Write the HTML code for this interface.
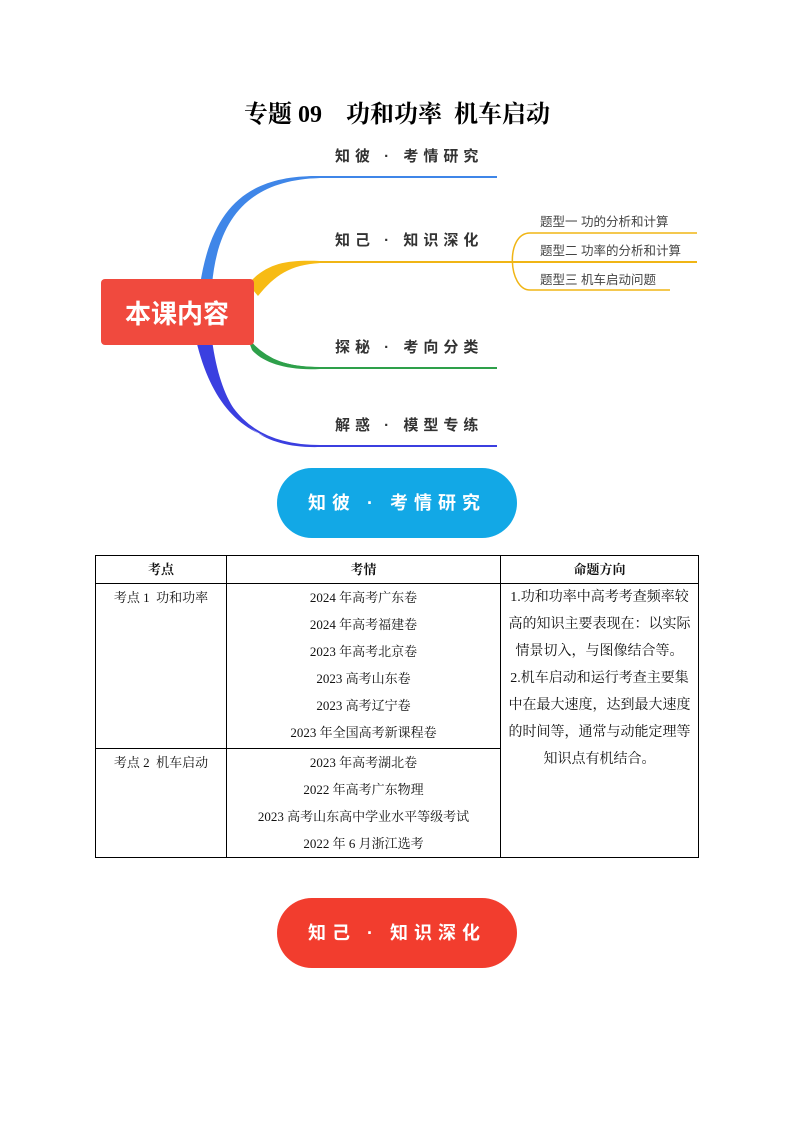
<!DOCTYPE html>
<html><head><meta charset="utf-8"><style>
body{margin:0;width:794px;height:1123px;background:#fff;position:relative;font-family:"Liberation Serif","Noto Serif CJK SC",serif;overflow:hidden}
.t{position:absolute;white-space:nowrap}
.pill{position:absolute;left:277px;width:240px;height:70px;border-radius:35px;color:#fff;font:bold 18px "Liberation Sans","Noto Sans CJK SC",sans-serif;letter-spacing:6px;text-align:center;line-height:70px}
table{position:absolute;left:95px;top:555px;width:604px;border-collapse:collapse;font-size:13px;color:#111}
td{border:1px solid #000;vertical-align:top;text-align:center;padding:0;line-height:27px}
</style></head><body>
<div class="t" style="left:0;width:794px;text-align:center;top:94px;font-size:24px;font-weight:bold;">专题 09&nbsp;&nbsp;&nbsp;&nbsp;功和功率&nbsp;&nbsp;机车启动</div>
<svg style="position:absolute;left:0;top:0" width="794" height="470">
<path d="M205,285 C215,210 250,177 320,177 L497,177" stroke="#3f86e8" stroke-width="2" fill="none"/>
<path d="M200,285 C212,205 250,175 320,176 L320,178 C252,180 218,215 212,285Z" fill="#3f86e8"/>
<path d="M250,290 C270,268 285,262 320,262 L497,262 L697,262" stroke="#f0b515" stroke-width="2" fill="none"/>
<path d="M248,284 C268,262 288,260 320,261 L320,263 C290,265 275,275 258,296Z" fill="#f7bb14"/>
<path d="M248,340 C268,362 288,368 320,368 L497,368" stroke="#2ea04a" stroke-width="2" fill="none"/>
<path d="M246,334 C262,360 288,367 320,367 L320,369 C286,371 262,362 252,350Z" fill="#2ea04a"/>
<path d="M205,340 C220,410 250,446 320,446 L497,446" stroke="#3b3fe0" stroke-width="2" fill="none"/>
<path d="M196,340 C214,415 252,446 320,445 L320,447 C250,449 222,412 212,340Z" fill="#3b3fe0"/>
<path d="M530,233 C505,233 508,290 530,290 M530,233 L697,233 M530,290 L670,290" stroke="#f0b515" stroke-width="1.5" fill="none"/>
<rect x="101" y="279" width="153" height="66" rx="4" fill="#f04a3e"/>
<text x="177" y="323" text-anchor="middle" fill="#fff" font-size="26" font-weight="bold" font-family="Liberation Sans,Noto Sans CJK SC,sans-serif">本课内容</text>
<g font-family="Liberation Sans,Noto Sans CJK SC,sans-serif" font-size="15" font-weight="bold" fill="#333" letter-spacing="5">
<text x="335" y="161">知彼 · 考情研究</text>
<text x="335" y="245">知己 · 知识深化</text>
<text x="335" y="352">探秘 · 考向分类</text>
<text x="335" y="430">解惑 · 模型专练</text>
</g>
<g font-family="Liberation Sans,Noto Sans CJK SC,sans-serif" font-size="12.5" fill="#444">
<text x="540" y="226">题型一 功的分析和计算</text>
<text x="540" y="255">题型二 功率的分析和计算</text>
<text x="540" y="284">题型三 机车启动问题</text>
</g>
</svg>
<div class="pill" style="top:468px;background:#12a8e6">知彼 · 考情研究</div>
<table>
<tr style="height:27px;font-weight:bold"><td style="width:130px">考点</td><td style="width:273px">考情</td><td>命题方向</td></tr>
<tr style="height:165px"><td>考点 1&nbsp;&nbsp;功和功率</td><td>2024 年高考广东卷<br>2024 年高考福建卷<br>2023 年高考北京卷<br>2023 高考山东卷<br>2023 高考辽宁卷<br>2023 年全国高考新课程卷</td><td rowspan="2" style="padding:0 4px;font-size:14px">1.功和功率中高考考查频率较高的知识主要表现在：以实际情景切入，与图像结合等。<br>2.机车启动和运行考查主要集中在最大速度，达到最大速度的时间等，通常与动能定理等知识点有机结合。</td></tr>
<tr style="height:109px"><td>考点 2&nbsp;&nbsp;机车启动</td><td>2023 年高考湖北卷<br>2022 年高考广东物理<br>2023 高考山东高中学业水平等级考试<br>2022 年 6 月浙江选考</td></tr>
</table>
<div class="pill" style="top:898px;background:#f23d2e">知己 · 知识深化</div>
</body></html>
